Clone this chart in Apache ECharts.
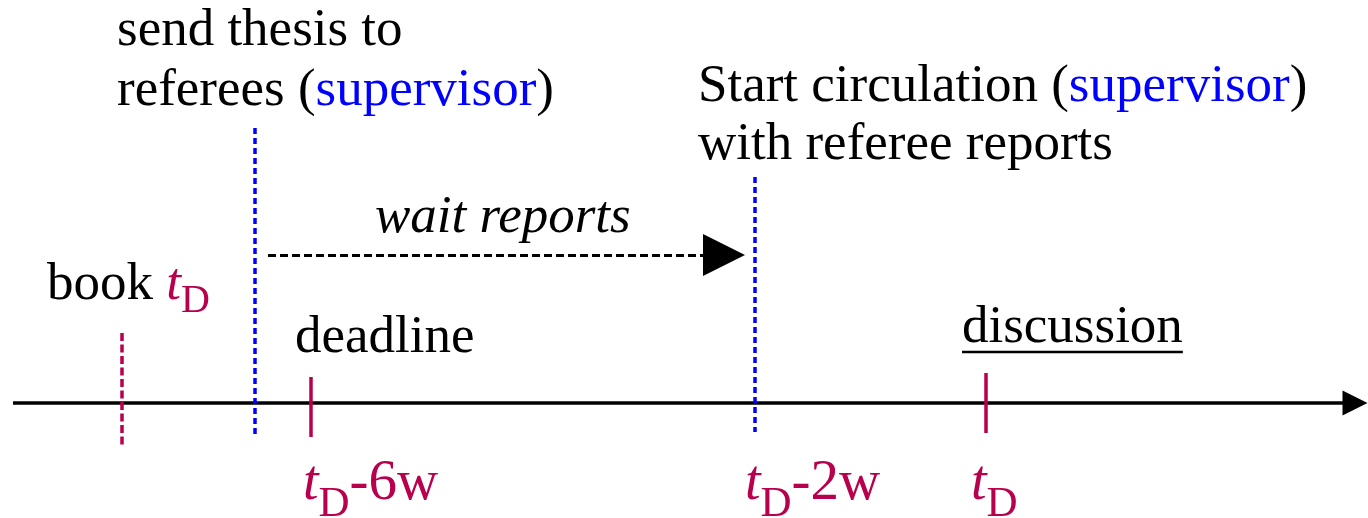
<!DOCTYPE html>
<html>
<head>
<meta charset="utf-8">
<script src="https://cdn.jsdelivr.net/npm/echarts@6/dist/echarts.min.js"></script>
<style>
  html, body { margin: 0; padding: 0; background: #fff; }
  #timeline-chart-div { width: 1368px; height: 518px; }
</style>
</head>
<body>
<div id="timeline-chart-div"></div>
<script>
// timeline positions, in the sketch's own units (x: along the timeline, y: height on the page)
var markNames = ['book', 'send', 'deadline', 'circulation', 'discussion'];
var markPos = [122, 255, 311, 755, 986];
var markTop = [333, 128, 377, 177, 373];
var markBottom = [446, 437, 437, 432, 433];

var axisStart = 13;
var axisEnd = 1355;
var axisLevel = 403;

var waitFrom = 268;
var waitTo = 724;
var waitLevel = 255;

var labelTexts = [
    '{n|send thesis to}\n{n|referees (}{b|supervisor}{n|)}',
    '{m|Start circulation (}{c|supervisor}{m|)}\n{m|with referee reports}',
    '{i|wait reports}',
    '{k|book }{bt|t}{bs|D}',
    '{n|deadline}',
    '{u|discussion}\n{hr|}',
    '{t|t}{s|D}{r|-6w}',
    '{t|t}{s|D}{r|-2w}',
    '{t|t}{s|D}'
];
var labelX = [117, 698, 375, 47, 295, 962, 303, 745, 971];
var labelY = [61, 116, 218, 285, 338, 329, 484, 484, 484];

var crimson = '#b8004c';
var blue = '#0000ff';
var serif = 'Liberation Serif';

var markStyle = {
    book: { color: crimson, type: [8, 3.5], width: 3.5 },
    send: { color: blue, type: [6, 4], width: 3.5 },
    deadline: { color: crimson, type: 'solid', width: 3.5 },
    circulation: { color: blue, type: [6, 4], width: 3.5 },
    discussion: { color: crimson, type: 'solid', width: 3.5 }
};

var markLines = markNames.map(function (name, i) {
    return {
        coords: [[markPos[i], markTop[i]], [markPos[i], markBottom[i]]],
        lineStyle: markStyle[name]
    };
});

var labelData = labelTexts.map(function (txt, i) {
    return { value: [labelX[i], labelY[i]], txt: txt };
});

var timeline_chartDom = document.getElementById('timeline-chart-div');
var timeline_myChart = echarts.init(timeline_chartDom);
var timeline_option;

timeline_option = {
    animation: false,
    backgroundColor: '#fff',
    grid: { left: 0, right: 0, top: 0, bottom: 0 },
    xAxis: { type: 'value', min: 0, max: 1368, show: false },
    yAxis: { type: 'value', min: 0, max: 518, inverse: true, show: false },
    series: [
        {
            name: 'axis',
            type: 'lines',
            coordinateSystem: 'cartesian2d',
            silent: true,
            symbol: ['none', 'triangle'],
            symbolSize: [29, 25],
            lineStyle: { color: '#000', width: 3.5, opacity: 1 },
            data: [{ coords: [[axisStart, axisLevel], [axisEnd, axisLevel]] }]
        },
        {
            name: 'marks',
            type: 'lines',
            coordinateSystem: 'cartesian2d',
            silent: true,
            symbol: 'none',
            lineStyle: { opacity: 1 },
            data: markLines
        },
        {
            name: 'wait',
            type: 'lines',
            coordinateSystem: 'cartesian2d',
            silent: true,
            symbol: ['none', 'triangle'],
            symbolSize: [26, 42],
            lineStyle: { color: '#000', width: 3, type: [8, 4], opacity: 1 },
            data: [{ coords: [[waitFrom, waitLevel], [waitTo, waitLevel]] }]
        },
        {
            name: 'labels',
            type: 'scatter',
            silent: true,
            symbolSize: 0,
            clip: false,
            itemStyle: { opacity: 1 },
            label: {
                show: true,
                position: 'right',
                distance: 0,
                align: 'left',
                verticalAlign: 'middle',
                opacity: 1,
                fontFamily: serif,
                fontSize: 53,
                color: '#000',
                formatter: function (p) { return p.data.txt; },
                rich: {
                    n: { fontFamily: serif, fontSize: 53, lineHeight: 60, color: '#000' },
                    b: { fontFamily: serif, fontSize: 53, lineHeight: 60, color: blue },
                    m: { fontFamily: serif, fontSize: 53, lineHeight: 58, color: '#000' },
                    c: { fontFamily: serif, fontSize: 53, lineHeight: 58, color: blue },
                    i: { fontFamily: serif, fontSize: 53, lineHeight: 60, fontStyle: 'italic', color: '#000' },
                    u: { fontFamily: serif, fontSize: 53, lineHeight: 46, color: '#000' },
                    hr: { borderColor: '#000', borderWidth: 2.5, width: '100%', height: 0, lineHeight: 2 },
                    k: { fontFamily: serif, fontSize: 53, lineHeight: 72, color: '#000' },
                    bt: { fontFamily: serif, fontSize: 53, lineHeight: 72, fontStyle: 'italic', color: crimson },
                    bs: { fontFamily: serif, fontSize: 40, lineHeight: 28, verticalAlign: 'bottom', color: crimson },
                    t: { fontFamily: serif, fontSize: 56, lineHeight: 84, fontStyle: 'italic', color: crimson },
                    s: { fontFamily: serif, fontSize: 43, lineHeight: 28, verticalAlign: 'bottom', color: crimson },
                    r: { fontFamily: serif, fontSize: 57, lineHeight: 84, color: crimson }
                }
            },
            data: labelData
        }
    ]
};

if (timeline_option && typeof timeline_option === 'object') {
    timeline_myChart.setOption(timeline_option);
}
</script>
</body>
</html>
